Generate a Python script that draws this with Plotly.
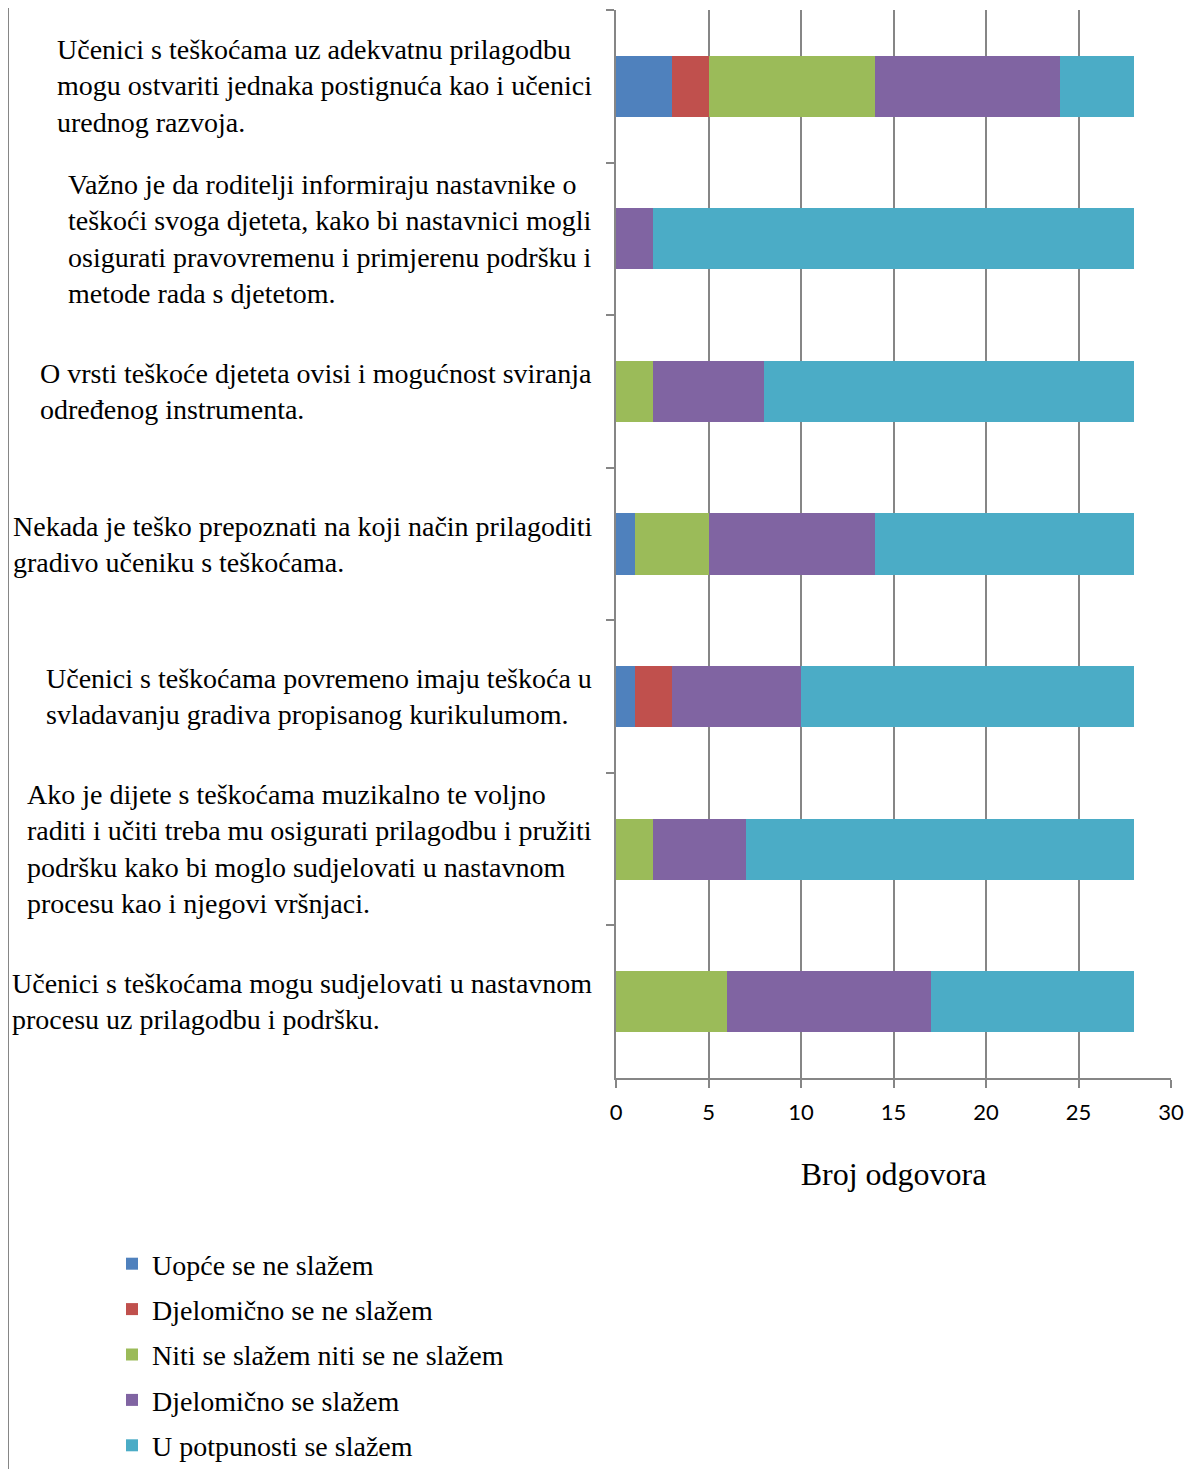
import plotly.graph_objects as go

categories = [
    "Učenici s teškoćama uz adekvatnu prilagodbu<br>mogu ostvariti jednaka postignuća kao i učenici<br>urednog razvoja.",
    "Važno je da roditelji informiraju nastavnike o<br>teškoći svoga djeteta, kako bi nastavnici mogli<br>osigurati pravovremenu i primjerenu podršku i<br>metode rada s djetetom.",
    "O vrsti teškoće djeteta ovisi i mogućnost sviranja<br>određenog instrumenta.",
    "Nekada je teško prepoznati na koji način prilagoditi<br>gradivo učeniku s teškoćama.",
    "Učenici s teškoćama povremeno imaju teškoća u<br>svladavanju gradiva propisanog kurikulumom.",
    "Ako je dijete s teškoćama muzikalno te voljno<br>raditi i učiti treba mu osigurati prilagodbu i pružiti<br>podršku kako bi moglo sudjelovati u nastavnom<br>procesu kao i njegovi vršnjaci.",
    "Učenici s teškoćama mogu sudjelovati u nastavnom<br>procesu uz prilagodbu i podršku.",
]
series_names = [
    "Uopće se ne slažem",
    "Djelomično se ne slažem",
    "Niti se slažem niti se ne slažem",
    "Djelomično se slažem",
    "U potpunosti se slažem",
]
uopce_ne = [3, 0, 0, 1, 1, 0, 0]
djelomicno_ne = [2, 0, 0, 0, 2, 0, 0]
niti_niti = [9, 0, 2, 4, 0, 2, 6]
djelomicno_da = [10, 2, 6, 9, 7, 5, 11]
potpuno_da = [4, 26, 20, 14, 18, 21, 11]
series_values = [uopce_ne, djelomicno_ne, niti_niti, djelomicno_da, potpuno_da]
colors = ["#4F81BD", "#C0504D", "#9BBB59", "#8064A2", "#4BACC6"]
x_ticks = [0, 5, 10, 15, 20, 25, 30]

# page body has an 8px margin; figure origin sits at (8, 8) on screen
OX, OY = 8, 8
W, H = 1192 - OX, 1469 - OY
L, T = 616 - OX, 10 - OY
R = W - (1171 - OX)
B = H - (1078 - OY)
pw, ph = W - L - R, H - T - B

def px_x(p):
    return (p - OX - L) / pw

def px_y(p):
    return (H - B - (p - OY)) / ph

def cx(p):
    return (p - OX) / W

def cy(p):
    return 1 - (p - OY) / H

serif = "Liberation Serif, Times New Roman, serif"

fig = go.Figure()
for i, (name, vals) in enumerate(zip(series_names, series_values)):
    fig.add_trace(go.Bar(
        y=categories, x=vals, name=name, orientation="h",
        marker=dict(color=colors[i], line=dict(width=0)),
        legendgroup=str(i),
    ))

for c in categories:
    fig.add_annotation(
        x=px_x(594), xref="paper", y=c, yref="y",
        text=c, showarrow=False, xanchor="right", yanchor="middle",
        align="left", font=dict(family=serif, size=28, color="#000000"),
    )

fig.add_shape(type="line", xref="paper", yref="paper",
              x0=px_x(8), x1=px_x(8), y0=px_y(0), y1=px_y(1469),
              line=dict(color="#868686", width=2))

fig.update_layout(
    width=W, height=H,
    margin=dict(l=L, r=R, t=T, b=B, autoexpand=False),
    paper_bgcolor="white", plot_bgcolor="white",
    barmode="stack", bargap=0.6,
    showlegend=True,
    legend=dict(
        xref="container", yref="container",
        x=cx(112), y=cy(1239), xanchor="left", yanchor="top",
        font=dict(family=serif, size=28, color="#000000"),
        tracegroupgap=6, traceorder="grouped",
        bgcolor="rgba(0,0,0,0)",
    ),
    xaxis=dict(
        range=[0, 30], tickvals=x_ticks, showgrid=True,
        gridcolor="#868686", gridwidth=1.5,
        showline=True, linecolor="#868686", linewidth=1.5,
        ticks="outside", ticklen=8, tickcolor="#868686", tickwidth=1.5,
        ticklabelstandoff=6,
        tickfont=dict(family="Lato, Liberation Sans, sans-serif", size=22, color="#000000"),
        title=dict(text="Broj odgovora", font=dict(family=serif, size=32, color="#000000"), standoff=38),
        zeroline=False,
    ),
    yaxis=dict(
        autorange="reversed", showticklabels=False,
        ticks="outside", tickson="boundaries", ticklen=8,
        tickcolor="#868686", tickwidth=1.5,
        showline=True, linecolor="#868686", linewidth=1.5,
        showgrid=False,
    ),
)

fig.write_html("out.html")
